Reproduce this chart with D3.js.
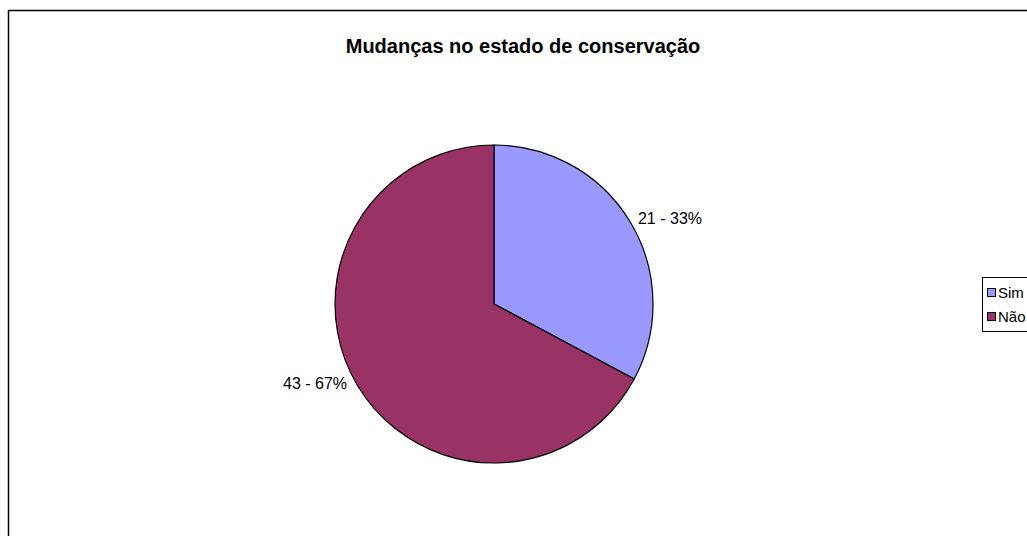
<!DOCTYPE html>
<html><head><meta charset="utf-8">
<script src="https://cdn.jsdelivr.net/npm/d3@7"></script>
<style>body{margin:0;background:#fff;}svg{display:block;font-family:"Liberation Sans",Arial,sans-serif;}</style>
</head><body>
<svg id="c" width="1027" height="536"></svg>
<script>
const title = "Mudanças no estado de conservação";
const categories = ["Sim", "Não"];
const values = [21, 43];
const percents = ["33%", "67%"];
const colors = ["#9999FF", "#993366"];

const svg = d3.select("#c");
// outer frame
svg.append("rect").attr("x", 8.5).attr("y", 10.5).attr("width", 1040).attr("height", 560)
  .attr("fill", "#fff").attr("stroke", "#000").attr("stroke-width", 1.5);

svg.append("text").attr("x", 523).attr("y", 53).attr("text-anchor", "middle")
  .attr("font-size", 20).attr("font-weight", "bold").text(title);

const cx = 494, cy = 304, r = 159;
const pie = d3.pie().sort(null).value(d => d)(values);
const arc = d3.arc().innerRadius(0).outerRadius(r);
const g = svg.append("g").attr("transform", `translate(${cx},${cy})`);
g.selectAll("path").data(pie).join("path")
  .attr("d", arc).attr("fill", (d, i) => colors[i])
  .attr("stroke", "#000").attr("stroke-width", 1.2);

g.selectAll("text.lbl").data(pie).join("text").attr("class", "lbl")
  .attr("x", (d, i) => i === 0 ? 176 : -179)
  .attr("y", (d, i) => i === 0 ? -80 : 85)
  .attr("text-anchor", "middle").attr("font-size", 16).attr("fill", "#000")
  .text((d, i) => `${values[i]} - ${percents[i]}`);

// legend
const lg = svg.append("g");
lg.append("rect").attr("x", 982.5).attr("y", 277.5).attr("width", 80).attr("height", 54)
  .attr("fill", "#fff").attr("stroke", "#000").attr("stroke-width", 1);
categories.forEach((c, i) => {
  const y = 288 + i * 24;
  lg.append("rect").attr("x", 987.5).attr("y", y + 0.5).attr("width", 8).attr("height", 8)
    .attr("fill", colors[i]).attr("stroke", "#000").attr("stroke-width", 1);
  lg.append("text").attr("x", 998).attr("y", y + 10).attr("font-size", 15).text(c);
});
</script>
</body></html>
